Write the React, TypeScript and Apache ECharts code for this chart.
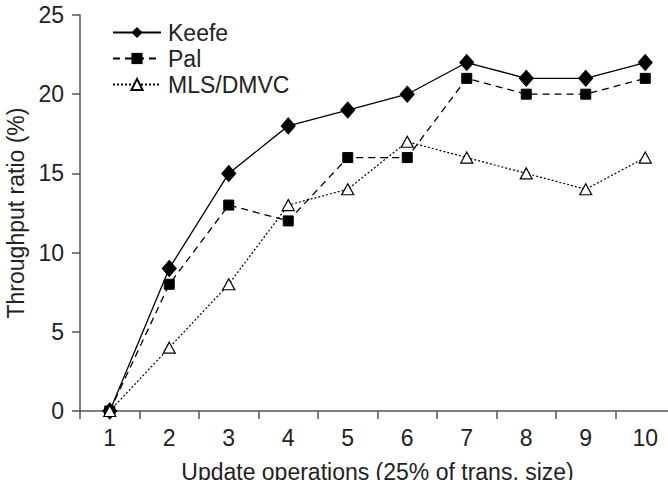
import React, { useEffect, useRef } from "react";
import * as echarts from "echarts";

const categories = ["1", "2", "3", "4", "5", "6", "7", "8", "9", "10"];
const keefe = [0, 9, 15, 18, 19, 20, 22, 21, 21, 22];
const pal = [0, 8, 13, 12, 16, 16, 21, 20, 20, 21];
const mls = [0, 4, 8, 13, 14, 17, 16, 15, 14, 16];

export default function App() {
  const ref = useRef<HTMLDivElement>(null);
  useEffect(() => {
    if (!ref.current) return;
    const chart = echarts.init(ref.current, null, { renderer: "svg" });
    const font = "Liberation Sans, Arial, sans-serif";
    const axisColor = "#555";
    const textColor = "#222";
    const fs = 23;
    chart.setOption({
      animation: false,
      textStyle: { fontFamily: font },
      grid: {
        left: 80,
        top: 15,
        width: 595,
        height: 396,
        containLabel: false,
        outerBoundsMode: "none",
      },
      legend: {
        orient: "vertical",
        left: 107,
        top: 16,
        itemWidth: 48,
        itemHeight: 14,
        itemGap: 3,
        textStyle: { fontSize: fs, color: textColor, fontFamily: font, padding: [0, 0, 0, 2] },
        data: ["Keefe", "Pal", "MLS/DMVC"],
      },
      xAxis: {
        type: "category",
        data: categories,
        boundaryGap: true,
        name: "Update operations (25% of trans. size)",
        nameLocation: "middle",
        nameGap: 49,
        nameTextStyle: { fontSize: fs, color: textColor, fontFamily: font },
        axisLine: { lineStyle: { color: axisColor, width: 1.5 } },
        axisTick: { show: true, length: 8, lineStyle: { color: axisColor, width: 1.5 } },
        axisLabel: { fontSize: fs, color: textColor, margin: 15, fontFamily: font },
      },
      yAxis: {
        type: "value",
        min: 0,
        max: 25,
        interval: 5,
        name: "Throughput ratio (%)",
        nameLocation: "middle",
        nameGap: 53,
        nameTextStyle: { fontSize: fs, color: textColor, fontFamily: font },
        splitLine: { show: false },
        axisLine: { show: true, lineStyle: { color: axisColor, width: 1.5 } },
        axisTick: { show: true, length: 8, lineStyle: { color: axisColor, width: 1.5 } },
        axisLabel: { fontSize: fs, color: textColor, margin: 16, fontFamily: font },
      },
      series: [
        {
          name: "Keefe",
          type: "line",
          data: keefe,
          symbol: "diamond",
          symbolSize: [14, 16],
          lineStyle: { color: "#000", width: 1.3, type: "solid" },
          itemStyle: { color: "#000", borderColor: "#000" },
        },
        {
          name: "Pal",
          type: "line",
          data: pal,
          symbol: "rect",
          symbolSize: 10,
          lineStyle: { color: "#000", width: 1.3, type: [7, 5] },
          itemStyle: { color: "#000", borderColor: "#000" },
        },
        {
          name: "MLS/DMVC",
          type: "line",
          data: mls,
          symbol: "triangle",
          symbolSize: [12, 11],
          lineStyle: { color: "#000", width: 1.2, type: [2, 2] },
          itemStyle: { color: "#fff", borderColor: "#000", borderWidth: 1.2 },
        },
      ],
    });
    return () => chart.dispose();
  }, []);
  return <div ref={ref} style={{ width: 668, height: 480, position: "absolute", left: 0, top: 0 }} />;
}
